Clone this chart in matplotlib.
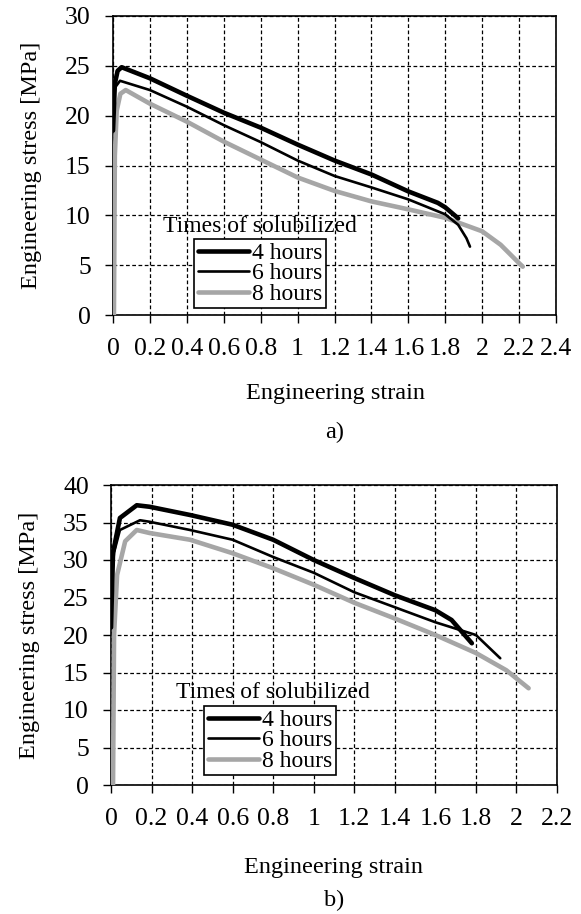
import matplotlib
matplotlib.use("Agg")
import matplotlib.pyplot as plt
import numpy as np

plt.rcParams['font.family'] = ['Liberation Serif', 'DejaVu Serif']

# ---- data: panel a ----
a_4h_strain = [0.0, 0.01, 0.025, 0.047, 0.2, 0.4, 0.6, 0.8, 1.0, 1.2, 1.4, 1.6, 1.76, 1.8, 1.87]
a_4h_stress = [18.5, 23.2, 24.5, 24.86, 23.75, 22.0, 20.3, 18.8, 17.1, 15.5, 14.1, 12.4, 11.25, 10.8, 9.7]
a_6h_strain = [0.0, 0.01, 0.038, 0.2, 0.4, 0.6, 0.8, 1.0, 1.2, 1.4, 1.6, 1.8, 1.87, 1.915, 1.934]
a_6h_stress = [19.0, 22.8, 23.5, 22.57, 20.9, 19.05, 17.35, 15.5, 13.95, 12.8, 11.6, 10.1, 9.05, 7.7, 6.86]
a_8h_strain = [0.005, 0.01, 0.02, 0.04, 0.069, 0.2, 0.4, 0.6, 0.8, 1.0, 1.2, 1.4, 1.6, 1.8, 2.0, 2.1, 2.2, 2.22]
a_8h_stress = [0.0, 16.0, 20.5, 22.2, 22.57, 21.2, 19.4, 17.4, 15.6, 13.8, 12.45, 11.4, 10.6, 9.75, 8.4, 7.05, 5.2, 4.85]

# ---- data: panel b ----
b_4h_strain = [0.0, 0.01, 0.044, 0.127, 0.19, 0.39, 0.6, 0.8, 1.0, 1.2, 1.4, 1.6, 1.68, 1.78]
b_4h_stress = [21.0, 31.0, 35.6, 37.3, 37.1, 36.0, 34.7, 32.7, 30.0, 27.6, 25.3, 23.3, 22.0, 18.9]
b_6h_strain = [0.005, 0.015, 0.044, 0.143, 0.19, 0.39, 0.6, 0.8, 1.0, 1.2, 1.4, 1.6, 1.8, 1.92]
b_6h_stress = [28.0, 31.0, 34.0, 35.3, 35.1, 34.0, 32.7, 30.4, 28.3, 25.7, 23.7, 21.7, 20.0, 16.9]
b_8h_strain = [0.01, 0.015, 0.03, 0.07, 0.127, 0.19, 0.39, 0.6, 0.8, 1.0, 1.2, 1.4, 1.6, 1.8, 1.95, 2.06]
b_8h_stress = [0.0, 20.0, 28.0, 32.5, 34.0, 33.6, 32.7, 30.9, 28.9, 26.7, 24.3, 22.2, 20.0, 17.6, 15.3, 12.9]

labels = ["4 hours", "6 hours", "8 hours"]
legend_title = "Times of solubilized"

a_xticks = [0, 0.2, 0.4, 0.6, 0.8, 1, 1.2, 1.4, 1.6, 1.8, 2, 2.2, 2.4]
a_yticks = [0, 5, 10, 15, 20, 25, 30]
b_xticks = [0, 0.2, 0.4, 0.6, 0.8, 1, 1.2, 1.4, 1.6, 1.8, 2, 2.2]
b_yticks = [0, 5, 10, 15, 20, 25, 30, 35, 40]

W, H = 581, 914
fig = plt.figure(figsize=(W / 100, H / 100), dpi=100)
FS = 17.5
TFS = 18.5

def fmt(v):
    return ("%g" % v)

def setup(ax, xticks, yticks):
    ax.set_xlim(xticks[0], xticks[-1])
    ax.set_ylim(yticks[0], yticks[-1])
    ax.set_xticks(xticks)
    ax.set_yticks(yticks)
    ax.set_xticklabels([fmt(v) for v in xticks])
    ax.set_yticklabels([fmt(v) for v in yticks])
    ax.tick_params(direction='out', length=6, width=1.0, labelsize=TFS, colors='black')
    ax.tick_params(axis='x', pad=10.5)
    ax.tick_params(axis='y', pad=10)
    ax.grid(True, color='black', linestyle=(0, (3, 2)), linewidth=0.9)
    ax.set_axisbelow(True)
    for s in ax.spines.values():
        s.set_color('black')
        s.set_linewidth(1.2)
    ax.set_ylabel("Engineering stress [MPa]", fontsize=FS)

def panel(rect, data, xticks, yticks, leg_anchor, title_xy, ylab_x):
    ax = fig.add_axes(rect)
    setup(ax, xticks, yticks)
    ax.yaxis.set_label_coords(ylab_x, 0.5)
    (s4, t4), (s6, t6), (s8, t8) = data
    l4, = ax.plot(s4, t4, color='black', lw=3.3, solid_capstyle='round', solid_joinstyle='round', label=labels[0], zorder=4)
    l6, = ax.plot(s6, t6, color='black', lw=1.9, solid_capstyle='round', solid_joinstyle='round', label=labels[1], zorder=4)
    l8, = ax.plot(s8, t8, color='#a6a6a6', lw=3.3, solid_capstyle='round', solid_joinstyle='round', label=labels[2], zorder=3)
    leg = ax.legend(handles=[l4, l6, l8], loc='upper left', bbox_to_anchor=leg_anchor,
                    bbox_transform=fig.transFigure, fontsize=FS - 0.5, frameon=True,
                    fancybox=False, edgecolor='black', framealpha=1, borderpad=0.15,
                    labelspacing=-0.05, handlelength=2.2, handletextpad=0.1, borderaxespad=0)
    leg.get_frame().set_linewidth(1.2)
    fig.text(title_xy[0] / W, 1 - title_xy[1] / H, legend_title, fontsize=FS - 0.5,
             ha='center', va='center')
    return ax

ax1 = panel([113 / W, 1 - 315 / H, (556 - 113) / W, (315 - 16) / H],
            [(a_4h_strain, a_4h_stress), (a_6h_strain, a_6h_stress), (a_8h_strain, a_8h_stress)],
            a_xticks, a_yticks, (194 / W, 1 - 239 / H), (260, 226), -0.16)
ax2 = panel([111 / W, 1 - 785 / H, (557 - 111) / W, (785 - 485) / H],
            [(b_4h_strain, b_4h_stress), (b_6h_strain, b_6h_stress), (b_8h_strain, b_8h_stress)],
            b_xticks, b_yticks, (204 / W, 1 - 706 / H), (273, 692), -0.159)

fig.text(335 / W, 1 - 393 / H, "Engineering strain", fontsize=FS, ha='center', va='center')
fig.text(335 / W, 1 - 432 / H, "a)", fontsize=FS, ha='center', va='center')
fig.text(334 / W, 1 - 868 / H, "Engineering strain", fontsize=FS, ha='center', va='center')
fig.text(334 / W, 1 - 900 / H, "b)", fontsize=FS, ha='center', va='center')

fig.savefig("out.png", dpi=100, facecolor='white')
